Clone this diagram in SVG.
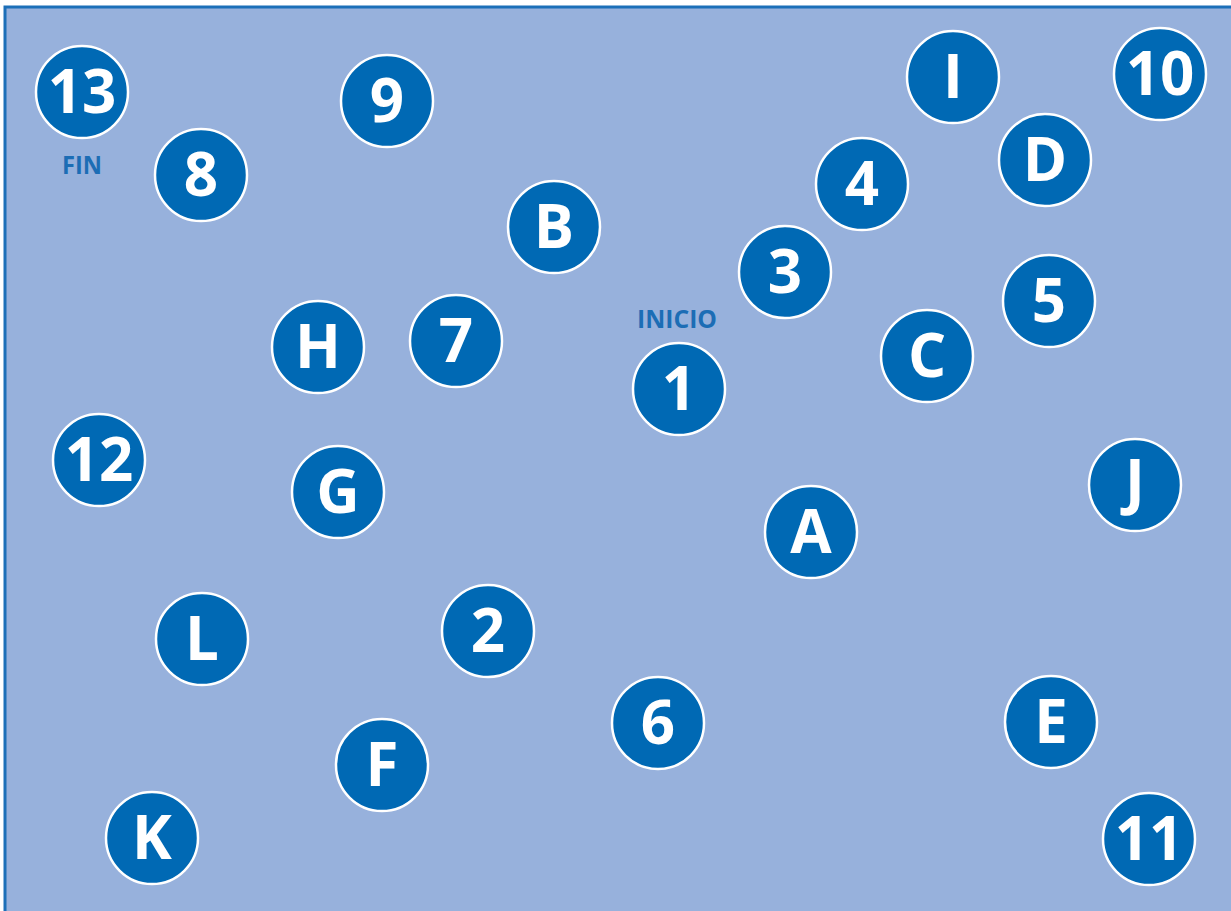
<svg xmlns="http://www.w3.org/2000/svg" width="1231" height="911" viewBox="0 0 1231 911">
<style>
.n circle{fill:#0069b4;stroke:#ffffff;stroke-width:2.5}
.n text{fill:#ffffff;font-family:"Open Sans","Noto Sans","Liberation Sans",sans-serif;font-weight:700;font-size:60px;text-anchor:middle}
.lbl{fill:#1c6db5;font-family:"Open Sans","Noto Sans","Liberation Sans",sans-serif;font-weight:700;font-size:25px;text-anchor:middle}
</style>
<rect x="5" y="7" width="1240" height="920" fill="#97b1dc" stroke="#1c6fb8" stroke-width="3"/>
<g id="connectors"></g>
<g id="n13" class="n"><circle cx="82" cy="92" r="46"/><text x="82" y="113">13</text></g>
<g id="n9" class="n"><circle cx="387" cy="101" r="46"/><text x="387" y="122">9</text></g>
<g id="nI" class="n"><circle cx="953" cy="77" r="46"/><text x="953" y="98">I</text></g>
<g id="n10" class="n"><circle cx="1160" cy="74" r="46"/><text x="1160" y="95">10</text></g>
<g id="n8" class="n"><circle cx="201" cy="175" r="46"/><text x="201" y="196">8</text></g>
<g id="nB" class="n"><circle cx="554" cy="227" r="46"/><text x="554" y="248">B</text></g>
<g id="n4" class="n"><circle cx="862" cy="184" r="46"/><text x="862" y="205">4</text></g>
<g id="nD" class="n"><circle cx="1045" cy="160" r="46"/><text x="1045" y="181">D</text></g>
<g id="n3" class="n"><circle cx="785" cy="272" r="46"/><text x="785" y="293">3</text></g>
<g id="n5" class="n"><circle cx="1049" cy="301" r="46"/><text x="1049" y="322">5</text></g>
<g id="nH" class="n"><circle cx="318" cy="347" r="46"/><text x="318" y="368">H</text></g>
<g id="n7" class="n"><circle cx="456" cy="341" r="46"/><text x="456" y="362">7</text></g>
<g id="n1" class="n"><circle cx="679" cy="389" r="46"/><text x="679" y="410">1</text></g>
<g id="nC" class="n"><circle cx="927" cy="356" r="46"/><text x="927" y="377">C</text></g>
<g id="n12" class="n"><circle cx="99" cy="460" r="46"/><text x="99" y="481">12</text></g>
<g id="nG" class="n"><circle cx="338" cy="492" r="46"/><text x="338" y="513">G</text></g>
<g id="nJ" class="n"><circle cx="1135" cy="485" r="46"/><text x="1135" y="503">J</text></g>
<g id="nA" class="n"><circle cx="811" cy="532" r="46"/><text x="811" y="553">A</text></g>
<g id="nL" class="n"><circle cx="202" cy="639" r="46"/><text x="202" y="660">L</text></g>
<g id="n2" class="n"><circle cx="488" cy="631" r="46"/><text x="488" y="652">2</text></g>
<g id="n6" class="n"><circle cx="658" cy="723" r="46"/><text x="658" y="744">6</text></g>
<g id="nE" class="n"><circle cx="1051" cy="722" r="46"/><text x="1051" y="743">E</text></g>
<g id="nF" class="n"><circle cx="382" cy="765" r="46"/><text x="382" y="786">F</text></g>
<g id="nK" class="n"><circle cx="152" cy="838" r="46"/><text x="152" y="859">K</text></g>
<g id="n11" class="n"><circle cx="1149" cy="839" r="46"/><text x="1149" y="860">11</text></g>
<g id="labels">
<text class="lbl" x="82" y="174" textLength="40" lengthAdjust="spacingAndGlyphs">FIN</text>
<text class="lbl" x="677" y="328" textLength="80" lengthAdjust="spacingAndGlyphs">INICIO</text>
</g>
</svg>
